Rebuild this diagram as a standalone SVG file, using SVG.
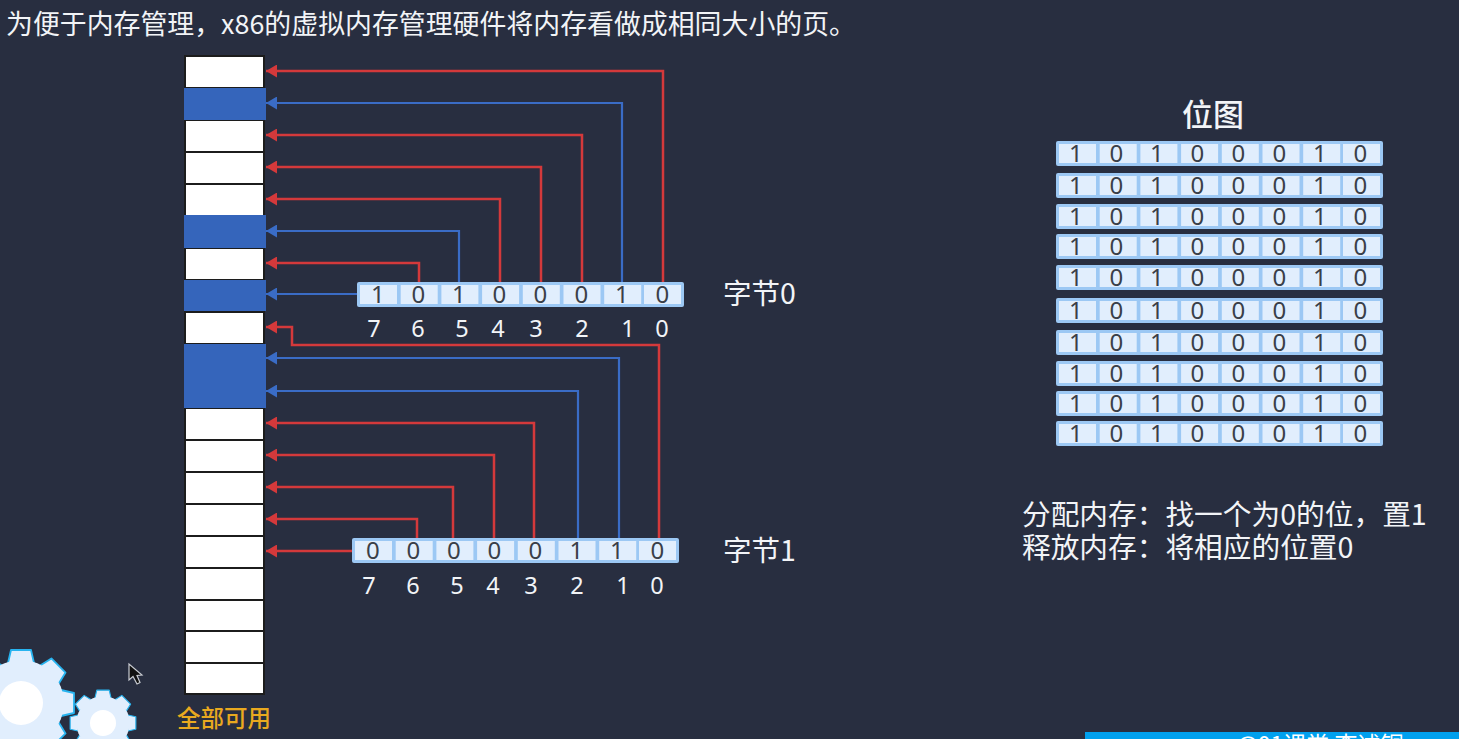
<svg xmlns="http://www.w3.org/2000/svg" xmlns:xlink="http://www.w3.org/1999/xlink" width="1459" height="739" viewBox="0 0 1459 739">
<style>
text{font-family:"Noto Sans CJK SC","Noto Sans",sans-serif;fill:#f2f4f7}
.t{font-size:26.9px}.l{font-size:28.5px}.n{font-size:23.5px;text-anchor:middle;font-family:"Noto Sans",sans-serif}
.d{font-size:24px;font-family:"Noto Sans",sans-serif;fill:#3a3f48}
.m{fill:#fff;stroke:#1c1c1c;stroke-width:2}.u{fill:#3565bb}
.r,.b{fill:none;stroke-width:2.500}.r{stroke:#d4393b;marker-end:url(#ar)}.b{stroke:#3a6cc6;stroke-width:2.200;marker-end:url(#ab)}
.tooth{fill:#e1eefd;stroke:#28b4f0;stroke-width:1.800;stroke-linejoin:round}
</style>
<defs>
<marker id="ar" markerUnits="userSpaceOnUse" markerWidth="11" markerHeight="13" refX="11" refY="6.500" orient="auto"><path d="M0 0L11 6.500L0 13Z" fill="#d4393b"/></marker>
<marker id="ab" markerUnits="userSpaceOnUse" markerWidth="11" markerHeight="13" refX="11" refY="6.500" orient="auto"><path d="M0 0L11 6.500L0 13Z" fill="#3a6cc6"/></marker>
<g id="bar"><rect width="327" height="25" rx="2" fill="#9cc8f4"/><g fill="#e1eefd"><rect x="3" y="3" width="37" height="19"/><rect x="43.7" y="3" width="37" height="19"/><rect x="84.4" y="3" width="37" height="19"/><rect x="125.1" y="3" width="37" height="19"/><rect x="165.8" y="3" width="37" height="19"/><rect x="206.5" y="3" width="37" height="19"/><rect x="247.2" y="3" width="37" height="19"/><rect x="287" y="3" width="37" height="19"/></g></g>
<path id="tooth" class="tooth" d="M-13 -40L-10 -53H10L13 -40Z"/>
<g id="teeth"><use href="#tooth"/><use href="#tooth" transform="rotate(45)"/><use href="#tooth" transform="rotate(90)"/><use href="#tooth" transform="rotate(135)"/><use href="#tooth" transform="rotate(180)"/><use href="#tooth" transform="rotate(225)"/><use href="#tooth" transform="rotate(270)"/><use href="#tooth" transform="rotate(315)"/></g>
</defs>
<rect width="1459" height="739" fill="#282e40"/>
<text id="title" class="t" x="6" y="34">为便于内存管理，x86的虚拟内存管理硬件将内存看做成相同大小的页。</text>
<g id="memory">
<rect class="m" x="185" y="56" width="79" height="32"/><rect class="m" x="185" y="120" width="79" height="32"/><rect class="m" x="185" y="152" width="79" height="32"/><rect class="m" x="185" y="184" width="79" height="32"/><rect class="m" x="185" y="248" width="79" height="32"/><rect class="m" x="185" y="312" width="79" height="32"/><rect class="m" x="185" y="408" width="79" height="32"/><rect class="m" x="185" y="440" width="79" height="32"/><rect class="m" x="185" y="472" width="79" height="32"/><rect class="m" x="185" y="504" width="79" height="32"/><rect class="m" x="185" y="536" width="79" height="32"/><rect class="m" x="185" y="568" width="79" height="32"/><rect class="m" x="185" y="600" width="79" height="31"/><rect class="m" x="185" y="631" width="79" height="32"/><rect class="m" x="185" y="663" width="79" height="31"/>
<rect class="u" x="184" y="88" width="82" height="32"/><rect class="u" x="184" y="215" width="82" height="33"/><rect class="u" x="184" y="280" width="82" height="31"/><rect class="u" x="184" y="344" width="82" height="64"/>
</g>
<text id="mem-label" x="224" y="727" font-size="23.5" font-weight="500" text-anchor="middle" style="fill:#e9a91f">全部可用</text>
<g id="connectors">
<path class="r" d="M663 282V71H266"/><path class="b" d="M622 282V103H266"/><path class="r" d="M582 282V135H266"/><path class="r" d="M541 282V167H266"/><path class="r" d="M500 282V199H266"/><path class="b" d="M459 282V231H266"/><path class="r" d="M419 282V263H266"/><path class="b" d="M358 294H266"/>
<path class="r" d="M659 538V345H292V327H266"/><path class="b" d="M619 538V358H266"/><path class="b" d="M578 538V391H266"/><path class="r" d="M534 538V423H266"/><path class="r" d="M494 538V455H266"/><path class="r" d="M453 538V487H266"/><path class="r" d="M417 538V519H266"/><path class="r" d="M353 551H266"/>
</g>
<g id="byte0" transform="translate(357 282)"><use href="#bar"/><text class="d" y="21" x="14 54.500 95 135.500 176.500 217.500 258 298.500">10100010</text></g>
<g id="byte0-index"><text class="n" x="374" y="337">7</text><text class="n" x="418" y="337">6</text><text class="n" x="462" y="337">5</text><text class="n" x="498" y="337">4</text><text class="n" x="536" y="337">3</text><text class="n" x="582" y="337">2</text><text class="n" x="628" y="337">1</text><text class="n" x="662" y="337">0</text></g>
<text id="byte0-label" class="l" x="723" y="304">字节0</text>
<g id="byte1" transform="translate(352 538)"><use href="#bar"/><text class="d" y="21" x="14 54.500 95 135.500 176.500 217.500 258 298.500">00000110</text></g>
<g id="byte1-index"><text class="n" x="369" y="594">7</text><text class="n" x="413" y="594">6</text><text class="n" x="457" y="594">5</text><text class="n" x="493" y="594">4</text><text class="n" x="531" y="594">3</text><text class="n" x="577" y="594">2</text><text class="n" x="623" y="594">1</text><text class="n" x="657" y="594">0</text></g>
<text id="byte1-label" class="l" x="723" y="561">字节1</text>
<text id="bitmap-title" x="1182" y="126" font-size="31" font-weight="500">位图</text>
<g id="bitmap">
<g transform="translate(1056 141)"><use href="#bar"/><text class="d" y="21" x="13 53.500 94 134.500 175.500 216.500 257 297.500">10100010</text></g>
<g transform="translate(1056 173)"><use href="#bar"/><text class="d" y="21" x="13 53.500 94 134.500 175.500 216.500 257 297.500">10100010</text></g>
<g transform="translate(1056 204)"><use href="#bar"/><text class="d" y="21" x="13 53.500 94 134.500 175.500 216.500 257 297.500">10100010</text></g>
<g transform="translate(1056 234)"><use href="#bar"/><text class="d" y="21" x="13 53.500 94 134.500 175.500 216.500 257 297.500">10100010</text></g>
<g transform="translate(1056 265)"><use href="#bar"/><text class="d" y="21" x="13 53.500 94 134.500 175.500 216.500 257 297.500">10100010</text></g>
<g transform="translate(1056 298)"><use href="#bar"/><text class="d" y="21" x="13 53.500 94 134.500 175.500 216.500 257 297.500">10100010</text></g>
<g transform="translate(1056 330)"><use href="#bar"/><text class="d" y="21" x="13 53.500 94 134.500 175.500 216.500 257 297.500">10100010</text></g>
<g transform="translate(1056 361)"><use href="#bar"/><text class="d" y="21" x="13 53.500 94 134.500 175.500 216.500 257 297.500">10100010</text></g>
<g transform="translate(1056 391)"><use href="#bar"/><text class="d" y="21" x="13 53.500 94 134.500 175.500 216.500 257 297.500">10100010</text></g>
<g transform="translate(1056 421)"><use href="#bar"/><text class="d" y="21" x="13 53.500 94 134.500 175.500 216.500 257 297.500">10100010</text></g>
</g>
<g id="notes"><text x="1022" y="525" font-size="28.700">分配内存：找一个为0的位，置1</text><text x="1022" y="558" font-size="28.700">释放内存：将相应的位置0</text></g>
<g id="gears">
<g transform="translate(21 703)"><use href="#teeth"/><circle r="43" fill="#e1eefd"/><circle r="22" fill="#fff"/></g>
<g transform="translate(103 723) scale(.62)"><use href="#teeth"/><circle r="43" fill="#e1eefd"/><circle r="21" fill="#fff"/></g>
</g>
<path id="cursor" d="M129 664V680L133 676.500L137 684L140 682.500L137 675.500L142 675Z" fill="#111" stroke="#c9ccd2" stroke-width="1.200"/>
<g id="watermark"><rect x="1085" y="732" width="374" height="7" fill="#00a0ee"/><text x="1236" y="753" font-size="23" style="fill:#fff">@01课堂 李述铜</text></g>
</svg>
